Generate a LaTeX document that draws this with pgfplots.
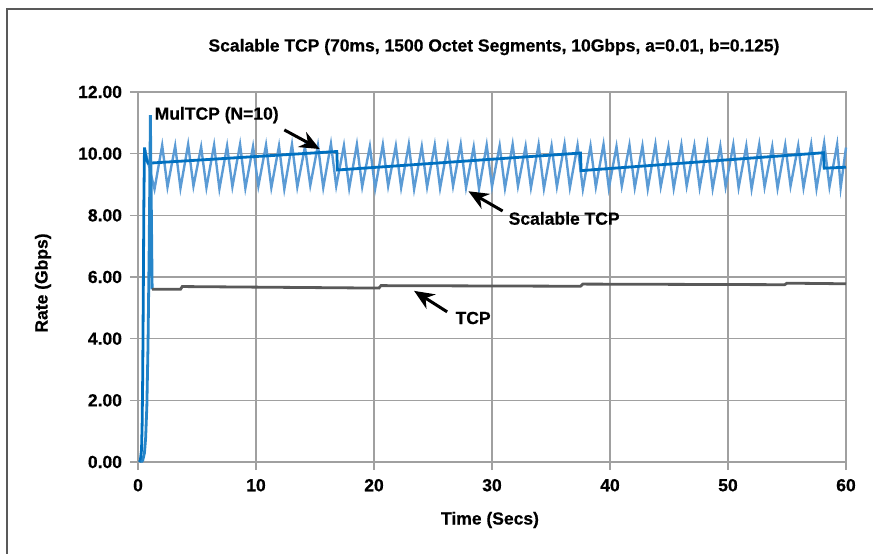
\documentclass[border=0pt]{standalone}
\usepackage{fontspec}
\setmainfont{Liberation Sans}[BoldFeatures={FakeBold=0.6}]
\usepackage{pgfplots}
\pgfplotsset{compat=1.18}
\usetikzlibrary{arrows.meta}

\definecolor{scal}{HTML}{5B9BD5}
\definecolor{mul}{HTML}{0070C0}
\definecolor{tcp}{HTML}{595959}
\definecolor{gridc}{HTML}{A0A0A0}

\begin{document}
\begin{tikzpicture}
\bfseries\fontsize{17.5}{21}\selectfont
\useasboundingbox (-138pt,-92pt) rectangle (735pt,462pt);
% frame of the figure
\draw[color=tcp, line width=2pt] (735pt,453pt) -- (-131pt,453pt) -- (-131pt,-92pt);

\begin{axis}[
    scale only axis, width=708pt, height=370pt,
    xmin=0, xmax=60, ymin=0, ymax=12,
    xtick={0,10,...,60}, ytick={0,2,...,12},
    grid=major,
    major grid style={color=gridc, line width=1.5pt},
    axis line style={color=gridc, line width=1.5pt},
    tick style={color=gridc, line width=1.5pt},
    tick align=outside, major tick length=8pt,
    xtick pos=bottom, ytick pos=left,
    /pgf/number format/assume math mode=true,
    yticklabel style={/pgf/number format/fixed, /pgf/number format/fixed zerofill,
        /pgf/number format/precision=2, xshift=-2pt},
    xticklabel style={yshift=-3pt},
    ticklabel style={font=\bfseries\fontsize{17.5}{21}\selectfont},
    clip=false,
]
% Scalable TCP
\addplot[scal, line width=2.4pt] coordinates {
(0.6,10.12)(1.4,8.85)
(2.05,10.27)(2.5,8.92)(3.15,10.25)(3.6,8.88)(4.25,10.3)(4.7,8.95)
(5.35,10.22)(5.8,8.9)(6.45,10.28)(6.9,8.86)(7.55,10.25)(8.0,8.93)
(8.65,10.3)(9.1,8.88)(9.75,10.23)(10.2,8.95)(10.85,10.28)(11.3,8.9)
(11.95,10.25)(12.4,8.85)(13.05,10.3)(13.5,8.92)(14.15,10.22)(14.6,8.97)
(15.25,10.27)(15.7,8.9)(16.35,10.32)(16.8,8.95)(17.45,10.26)(17.9,8.88)
(18.55,10.3)(19.0,8.93)(19.65,10.24)(20.1,8.87)(20.75,10.29)(21.2,8.95)
(21.85,10.25)(22.3,8.9)(22.95,10.3)(23.4,8.85)(24.05,10.23)(24.5,8.92)
(25.15,10.28)(25.6,8.88)(26.25,10.25)(26.7,8.95)(27.35,10.3)(27.8,8.9)
(28.45,10.22)(28.9,8.86)(29.55,10.28)(30.0,8.93)(30.65,10.26)(31.1,8.88)
(31.75,10.3)(32.2,8.95)(32.85,10.24)(33.3,8.9)(33.95,10.29)(34.4,8.87)
(35.05,10.25)(35.5,8.93)(36.15,10.31)(36.6,8.9)(37.25,10.27)(37.7,8.85)
(38.35,10.25)(38.8,8.92)(39.45,10.3)(39.9,8.88)(40.55,10.23)(41.0,8.95)
(41.65,10.28)(42.1,8.9)(42.75,10.25)(43.2,8.86)(43.85,10.3)(44.3,8.93)
(44.95,10.22)(45.4,8.88)(46.05,10.28)(46.5,8.95)(47.15,10.26)(47.6,8.9)
(48.25,10.3)(48.7,8.87)(49.35,10.24)(49.8,8.93)(50.45,10.29)(50.9,8.9)
(51.55,10.25)(52.0,8.86)(52.65,10.3)(53.1,8.92)(53.75,10.23)(54.2,8.88)
(54.85,10.28)(55.3,8.95)(55.95,10.26)(56.4,8.9)(57.05,10.3)(57.5,8.87)
(58.15,10.35)(58.6,8.93)(59.25,10.3)(59.55,8.9)(60,10.2)
};
% MulTCP (N=10)
\addplot[mul, line width=2.8pt] coordinates {
(0.1,0)(0.2,0.05)(0.3,0.4)(0.35,1.2)(0.4,2.8)(0.45,5.5)(0.5,8.5)(0.55,10.2)
(0.65,9.9)(0.85,9.69)(16.85,10.07)(16.9,9.47)(37.5,10.02)(37.55,9.45)
(58.1,10.03)(58.15,9.53)(60,9.56)
};
% TCP slow start
\addplot[mul!85!white, line width=2.8pt] coordinates {
(0.25,0)(0.4,0.05)(0.55,0.3)(0.65,0.8)(0.75,1.8)(0.85,3.8)(0.95,7.0)(1.05,11.25)(1.2,5.6)
};
% TCP
\addplot[tcp, line width=2.8pt] coordinates {
(1.2,5.6)(3.6,5.6)(3.75,5.69)(20.4,5.64)(20.6,5.72)(37.5,5.70)(37.7,5.77)
(54.8,5.75)(55.0,5.80)(60,5.78)
};

\node[anchor=west, inner sep=0pt] at (axis cs:1.4,11.25) {MulTCP (N=10)};
\draw[line width=3pt, -{Stealth[length=20pt,width=17pt]}] (axis cs:12.4,10.77) -- (axis cs:15.4,10.15);
\node[anchor=west, inner sep=0pt] at (axis cs:31.4,7.9) {Scalable TCP};
\draw[line width=3pt, -{Stealth[length=20pt,width=17pt]}] (axis cs:30.9,8.14) -- (axis cs:28.0,8.78);
\node[anchor=west, inner sep=0pt] at (axis cs:26.9,4.67) {TCP};
\draw[line width=3pt, -{Stealth[length=20pt,width=17pt]}] (axis cs:26.2,4.87) -- (axis cs:23.4,5.55);
\end{axis}

\node at (356pt,415pt) {Scalable TCP (70ms, 1500 Octet Segments, 10Gbps, a=0.01, b=0.125)};
\node at (352pt,-58pt) {Time (Secs)};
\node[rotate=90] at (-95pt,179pt) {Rate (Gbps)};
\end{tikzpicture}
\end{document}
